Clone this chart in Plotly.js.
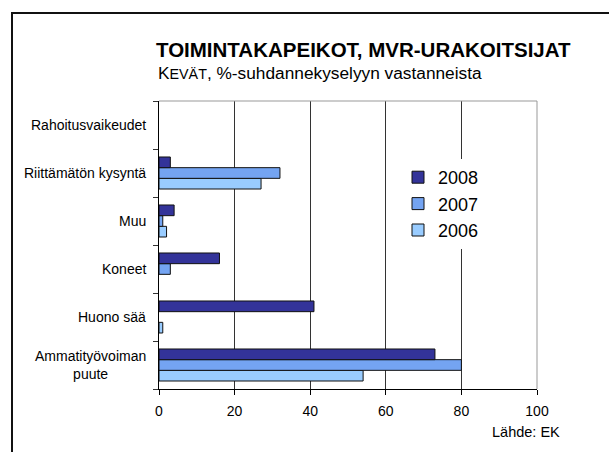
<!DOCTYPE html>
<html>
<head>
<meta charset="utf-8">
<script src="https://cdn.plot.ly/plotly-3.0.1.min.js"></script>
<style>
html,body{margin:0;padding:0;background:#fff;overflow:hidden;}
#wrap{position:relative;width:609px;height:452px;overflow:hidden;}
#chart{width:609px;height:452px;}
#frame{position:absolute;left:11px;top:12px;width:700px;height:600px;border-top:2px solid #111;border-left:2px solid #111;pointer-events:none;}
</style>
</head>
<body>
<div id="wrap"><div id="chart"></div><div id="frame"></div></div>
<script>
// Data (bottom-to-top category order for Plotly)
const categories = ["Ammatityövoiman<br>puute", "Huono sää", "Koneet", "Muu", "Riittämätön kysyntä", "Rahoitusvaikeudet"];
const v2006 = [54, 1, 0, 2, 27, 0];
const v2007 = [80, 0, 3, 1, 32, 0];
const v2008 = [73, 41, 16, 4, 3, 0];
const seriesNames = ["2006", "2007", "2008"];
const xTicks = [0, 20, 40, 60, 80, 100];

const FONT = "Liberation Sans, Arial, Helvetica, sans-serif";
const colors = ["#99CCFF", "#74A4F2", "#333399"];
const values = [v2006, v2007, v2008];

const traces = values.map((v, i) => ({
  type: "bar",
  orientation: "h",
  name: seriesNames[i],
  y: categories,
  x: v,
  marker: {color: colors[i], line: {color: "#111", width: v.map(d => d === 0 ? 0 : 1)}},
  hoverinfo: "x+y+name"
}));

// plot area in pixels: x 159..537, y 101..389
const L = 159, R = 537, T = 101, B = 389;
const pw = R - L, ph = B - T;
const px = p => (p - L) / pw;
const py = p => (B - p) / ph;

const labelAnnotations = categories.map(c => ({
  xref: "paper", yref: "y",
  x: px(148), y: c,
  xanchor: "right", yanchor: "middle", align: "center",
  text: c, showarrow: false,
  font: {family: FONT, size: 14, color: "#000"}
}));

const layout = {
  width: 609, height: 452,
  margin: {l: L, r: 609 - R, t: T, b: 452 - B, pad: 0},
  paper_bgcolor: "#fff", plot_bgcolor: "#fff",
  font: {family: FONT, color: "#000"},
  title: {
    text: "<b>TOIMINTAKAPEIKOT, MVR-URAKOITSIJAT</b>",
    font: {family: FONT, size: 20.5, color: "#000"},
    xref: "container", x: 156 / 609, xanchor: "left",
    yref: "container", y: 1 - 50 / 452, yanchor: "middle"
  },
  barmode: "group",
  bargap: 0.333, bargroupgap: 0,
  showlegend: true,
  legend: {
    x: px(398), y: py(159), xanchor: "left", yanchor: "top",
    bgcolor: "#fff", borderwidth: 0,
    traceorder: "reversed",
    font: {family: FONT, size: 18, color: "#000"},
    itemwidth: 30
  },
  xaxis: {
    range: [0, 100], tickvals: xTicks, ticktext: xTicks.map(String),
    showgrid: true, gridcolor: "#333", gridwidth: 1,
    zeroline: false,
    showline: true, linecolor: "#000", linewidth: 1,
    ticks: "outside", ticklen: 5, tickcolor: "#000", tickwidth: 1,
    tickfont: {family: FONT, size: 14, color: "#000"},
    ticklabelstandoff: 4,
    fixedrange: true
  },
  yaxis: {
    type: "category", categoryorder: "array", categoryarray: categories,
    showticklabels: false,
    tickson: "boundaries",
    showgrid: false, zeroline: false,
    showline: true, linecolor: "#000", linewidth: 1,
    ticks: "outside", ticklen: 5, tickcolor: "#333", tickwidth: 1,
    fixedrange: true
  },
  shapes: [
    // plot area top and right border
    {type: "line", xref: "paper", yref: "paper", x0: 0, x1: 1, y0: 1, y1: 1,
     line: {color: "#999", width: 1}},
    {type: "line", xref: "paper", yref: "paper", x0: 1, x1: 1, y0: 0, y1: 1,
     line: {color: "#999", width: 1}}
  ],
  annotations: [
    {xref: "paper", yref: "paper", x: px(156), y: py(73), xanchor: "left", yanchor: "middle",
     text: "K<span style=\"font-size:14.3px\">EVÄT</span>, %-suhdannekyselyyn vastanneista",
     showarrow: false, font: {family: FONT, size: 17.3, color: "#000"}},
    {xref: "paper", yref: "paper", x: px(562), y: py(432), xanchor: "right", yanchor: "middle",
     text: "Lähde: EK", showarrow: false, font: {family: FONT, size: 14.5, color: "#000"}}
  ].concat(labelAnnotations)
};

Plotly.newPlot("chart", traces, layout, {displayModeBar: false, staticPlot: true});
</script>
</body>
</html>
